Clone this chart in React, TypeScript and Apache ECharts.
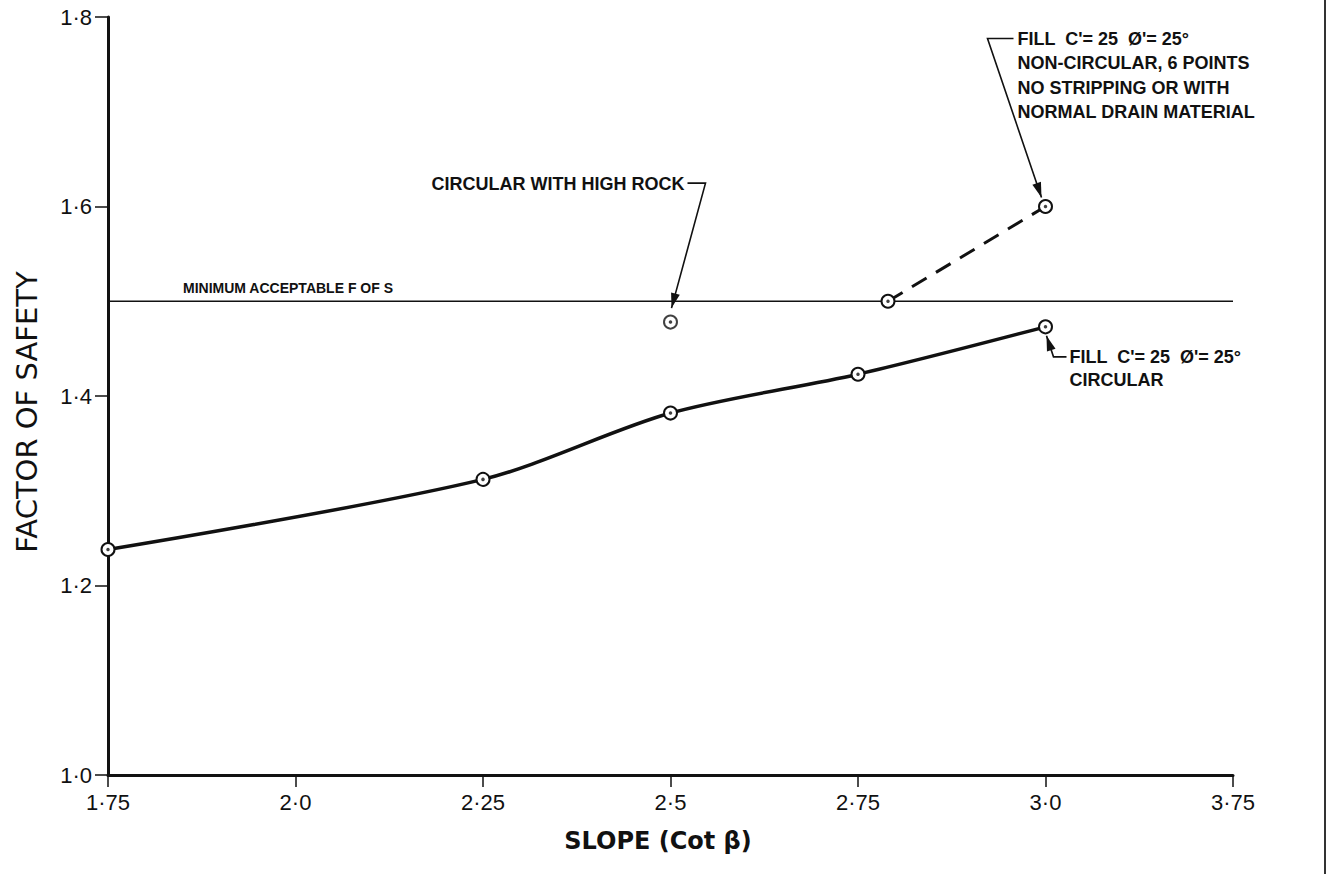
import React, { useEffect, useRef } from "react";
import * as echarts from "echarts";

// ---- data ----
const xTickLabels = ["1·75", "2·0", "2·25", "2·5", "2·75", "3·0", "3·75"];
const yTickLabels = ["1·0", "1·2", "1·4", "1·6", "1·8"];

const circularSlope = [1.75, 2.25, 2.5, 2.75, 3.0];
const circularFos = [1.238, 1.312, 1.382, 1.423, 1.473];

const highRockSlope = [2.5];
const highRockFos = [1.478];

const nonCircularSlope = [2.79, 3.0];
const nonCircularFos = [1.5, 1.6];

const minimumFos = 1.5;

const upperNote = [
  "FILL  C'= 25  Ø'= 25°",
  "NON-CIRCULAR, 6 POINTS",
  "NO STRIPPING OR WITH",
  "NORMAL DRAIN MATERIAL",
];
const lowerNote = ["FILL  C'= 25  Ø'= 25°", "CIRCULAR"];
const highRockNote = "CIRCULAR WITH HIGH ROCK";
const minimumNote = "MINIMUM ACCEPTABLE F OF S";

const INK = "#111";
const FONT = "'Liberation Sans', Arial, sans-serif";
const WIDE = "'DejaVu Sans', 'Liberation Sans', sans-serif";

const pairs = (xs: number[], ys: number[]) => xs.map((x, i) => [x, ys[i]]);

function arrowHead(tip: number[], from: number[], len = 15, half = 4.5) {
  const dx = tip[0] - from[0];
  const dy = tip[1] - from[1];
  const d = Math.sqrt(dx * dx + dy * dy) || 1;
  const ux = dx / d;
  const uy = dy / d;
  const bx = tip[0] - ux * len;
  const by = tip[1] - uy * len;
  return [
    [tip[0], tip[1]],
    [bx - uy * half, by + ux * half],
    [bx + uy * half, by - ux * half],
  ];
}

export default function App() {
  const ref = useRef<HTMLDivElement>(null);

  useEffect(() => {
    document.body.style.margin = "0";
    if (!ref.current) return;
    const chart = echarts.init(ref.current, null, { renderer: "svg" });

    const markerStyle = {
      color: "#fff",
      borderColor: INK,
      borderWidth: 2,
    };

    const allPoints = [
      ...pairs(circularSlope, circularFos),
      ...pairs(highRockSlope, highRockFos),
      ...pairs(nonCircularSlope, nonCircularFos),
    ];

    chart.setOption({
      animation: false,
      backgroundColor: "#fff",
      grid: {
        left: 108,
        right: 96,
        top: 17,
        bottom: 99,
        outerBoundsMode: "none",
      },
      xAxis: {
        type: "value",
        min: 1.75,
        max: 3.25,
        interval: 0.25,
        axisLine: { show: true, onZero: false, lineStyle: { color: INK, width: 3 } },
        axisTick: { show: true, length: 12, lineStyle: { color: INK, width: 1.5 } },
        splitLine: { show: false },
        axisLabel: {
          color: INK,
          fontSize: 22,
          fontFamily: FONT,
          margin: 16,
          formatter: (v: number) => xTickLabels[Math.round((v - 1.75) / 0.25)] ?? "",
        },
      },
      yAxis: {
        type: "value",
        min: 1.0,
        max: 1.8,
        interval: 0.2,
        axisLine: { show: true, lineStyle: { color: INK, width: 3 } },
        axisTick: { show: true, length: 13, lineStyle: { color: INK, width: 1.5 } },
        splitLine: { show: false },
        axisLabel: {
          color: INK,
          fontSize: 22,
          fontFamily: FONT,
          margin: 16,
          formatter: (v: number) => yTickLabels[Math.round((v - 1.0) / 0.2)] ?? "",
        },
      },
      series: [
        {
          name: "Minimum acceptable",
          type: "line",
          data: [
            [1.75, minimumFos],
            [3.25, minimumFos],
          ],
          symbol: "none",
          lineStyle: { color: INK, width: 1.5 },
          z: 1,
        },
        {
          name: "Circular",
          type: "line",
          data: pairs(circularSlope, circularFos),
          smooth: 0.3,
          symbol: "circle",
          symbolSize: 13,
          showAllSymbol: true,
          lineStyle: { color: INK, width: 3.5 },
          itemStyle: markerStyle,
          z: 3,
        },
        {
          name: "Non-circular",
          type: "line",
          data: pairs(nonCircularSlope, nonCircularFos),
          symbol: "circle",
          symbolSize: 13,
          lineStyle: { color: INK, width: 3, type: [17, 11] },
          itemStyle: markerStyle,
          z: 3,
        },
        {
          name: "Circular with high rock",
          type: "scatter",
          data: pairs(highRockSlope, highRockFos),
          symbol: "circle",
          symbolSize: 13,
          itemStyle: markerStyle,
          z: 3,
        },
        {
          name: "centres",
          type: "scatter",
          data: allPoints,
          symbol: "circle",
          symbolSize: 3.5,
          itemStyle: { color: INK },
          z: 4,
        },
      ],
    });

    const px = (x: number, y: number) =>
      chart.convertToPixel({ gridIndex: 0 }, [x, y]) as number[];
    const add = (p: number[], dx: number, dy: number) => [p[0] + dx, p[1] + dy];

    const graphics: any[] = [];
    const leader = (pts: number[][]) => {
      graphics.push({
        type: "polyline",
        shape: { points: pts },
        style: { stroke: INK, lineWidth: 1.6, fill: null },
        z: 10,
      });
      const tip = pts[pts.length - 1];
      const prev = pts[pts.length - 2];
      graphics.push({
        type: "polygon",
        shape: { points: arrowHead(tip, prev) },
        style: { fill: INK },
        z: 10,
      });
    };
    const text = (
      x: number,
      y: number,
      s: string,
      size: number,
      align: string,
      weight = "bold",
      rotation = 0,
      family = FONT
    ) => {
      graphics.push({
        type: "text",
        x,
        y,
        rotation,
        style: {
          text: s,
          fill: INK,
          fontSize: size,
          fontWeight: weight,
          fontFamily: family,
          align,
          verticalAlign: "middle",
        },
        z: 10,
      });
    };

    // high rock annotation
    const hr = px(highRockSlope[0], highRockFos[0]);
    leader([add(hr, 17, -139), add(hr, 35, -139), add(hr, 1, -14)]);
    text(hr[0] + 14, hr[1] - 138, highRockNote, 18, "right");

    // non-circular annotation
    const nc = px(nonCircularSlope[1], nonCircularFos[1]);
    leader([add(nc, -32, -168), add(nc, -58, -168), add(nc, -4, -9)]);
    upperNote.forEach((s, i) => text(nc[0] - 28, nc[1] - 168 + i * 24.5, s, 18, "left"));

    // circular annotation
    const ci = px(circularSlope[4], circularFos[4]);
    leader([add(ci, 21, 30), add(ci, 8, 30), add(ci, 1, 9)]);
    lowerNote.forEach((s, i) => text(ci[0] + 24, ci[1] + 30 + i * 23, s, 18, "left"));

    // minimum line label
    const mn = px(1.75, minimumFos);
    text(mn[0] + 75, mn[1] - 13, minimumNote, 14, "left");

    // axis titles
    text(27, 412, "FACTOR OF SAFETY", 29, "center", "normal", Math.PI / 2, WIDE);
    text(658, 841, "SLOPE (Cot β)", 24, "center", "bold", 0, WIDE);

    // scanned page edge on the right
    graphics.push({
      type: "line",
      shape: { x1: 1325, y1: 0, x2: 1325, y2: 874 },
      style: { stroke: "#333", lineWidth: 2 },
    });

    chart.setOption({ graphic: graphics });

    return () => chart.dispose();
  }, []);

  return <div ref={ref} style={{ width: 1329, height: 874 }} />;
}
